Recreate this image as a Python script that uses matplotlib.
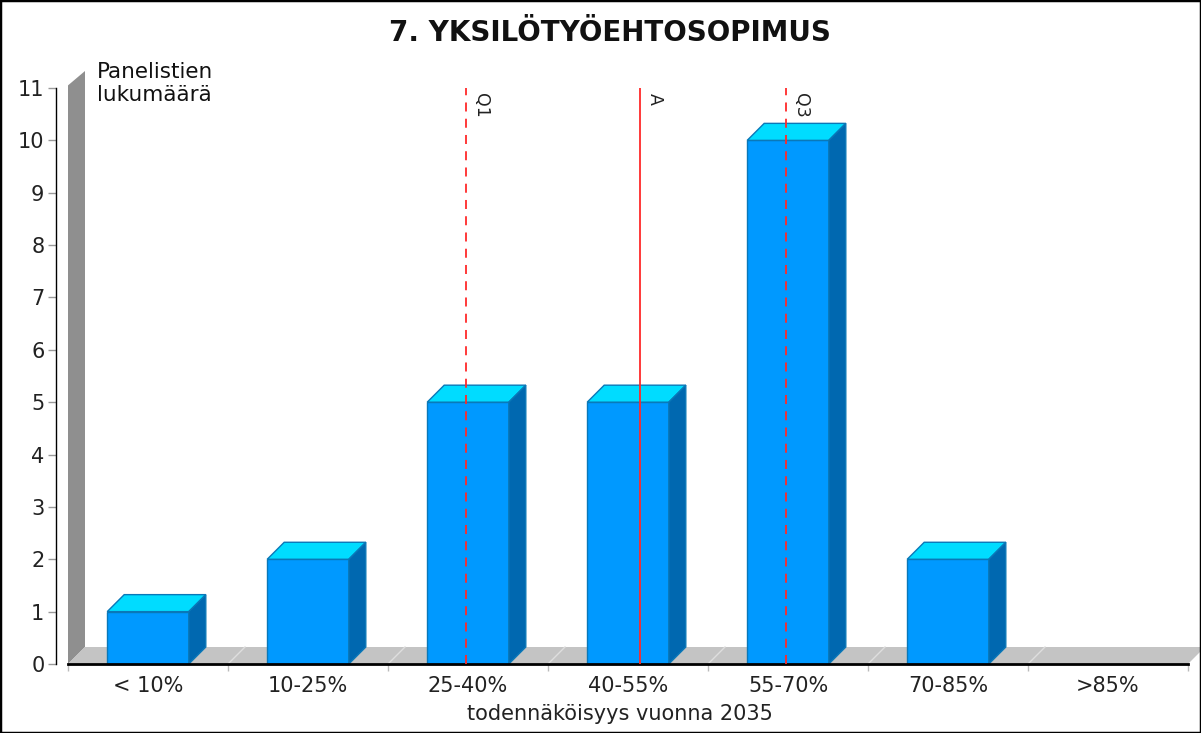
import matplotlib
matplotlib.use("Agg")
import matplotlib.pyplot as plt
from matplotlib.patches import Polygon, Rectangle

# Data
categories = ["< 10%", "10-25%", "25-40%", "40-55%", "55-70%", "70-85%", ">85%"]
counts = [1, 2, 5, 5, 10, 2, 0]
# Summary markers, in category-axis units
q1_pos = 1.99
avg_pos = 3.075
q3_pos = 3.99
y_ticks = list(range(0, 12))

title = "7. YKSILÖTYÖEHTOSOPIMUS"
x_label = "todennäköisyys vuonna 2035"
y_label = "Panelistien\nlukumäärä"

W, H = 1201, 733
fig = plt.figure(figsize=(W / 100, H / 100), dpi=100)
fig.patch.set_facecolor("white")

# plot area in pixels
px_left, px_right = 68, 1188
px_bottom, px_top = 664, 88
ax = fig.add_axes([px_left / W, (H - px_bottom) / H,
                   (px_right - px_left) / W, (px_bottom - px_top) / H])
ax.set_xlim(-0.5, len(categories) - 0.5)
ax.set_ylim(0, 11)
ax.patch.set_alpha(0)

# 3D depth offsets (in data units)
dx = 17 / 160
dy = 17 / ((px_bottom - px_top) / 11)

# back wall and floor
x0 = -0.5
x1 = len(categories) - 0.5
wall = Polygon([(x0, 0), (x0 + dx, dy), (x0 + dx, 11 + dy), (x0, 11.05)],
               closed=True, facecolor="#8f8f8f", edgecolor="none",
               clip_on=False, zorder=1)
ax.add_patch(wall)
floor = Polygon([(x0, 0), (x1, 0), (x1 + dx, dy), (x0 + dx, dy)],
                closed=True, facecolor="#c4c4c4", edgecolor="none",
                clip_on=False, zorder=1)
ax.add_patch(floor)
for b in range(1, len(categories)):
    ax.plot([b - 0.5, b - 0.5 + dx], [0, dy], color="#dedede", lw=1,
            clip_on=False, zorder=1.5)

# 3D bars
bw = 0.255
front_c = "#0099ff"
top_c = "#00dcff"
side_c = "#0068b0"
edge_c = "#0a78b8"
for i, v in enumerate(counts):
    if v <= 0:
        continue
    ax.add_patch(Rectangle((i - bw, 0), 2 * bw, v, facecolor=front_c,
                           edgecolor=edge_c, lw=1, zorder=3, clip_on=False))
    ax.add_patch(Polygon([(i - bw, v), (i + bw, v), (i + bw + dx, v + dy),
                          (i - bw + dx, v + dy)], closed=True,
                         facecolor=top_c, edgecolor=edge_c, lw=1, zorder=3,
                         clip_on=False))
    ax.add_patch(Polygon([(i + bw, 0), (i + bw + dx, dy), (i + bw + dx, v + dy),
                          (i + bw, v)], closed=True, facecolor=side_c,
                         edgecolor=edge_c, lw=1, zorder=3, clip_on=False))

# quartile and average markers
for pos, ls, lab in [(q1_pos, (0, (5, 4)), "Q1"), (avg_pos, "-", "A"),
                     (q3_pos, (0, (5, 4)), "Q3")]:
    ax.plot([pos, pos], [0, 11], color="#ff2a2a", lw=1.3, ls=ls, zorder=5)
    ax.text(pos + 0.035, 10.9, lab, rotation=270, ha="left", va="top",
            fontsize=12.5, color="#222222", zorder=6)

# axes styling
for s in ["top", "right"]:
    ax.spines[s].set_visible(False)
ax.spines["left"].set_position(("outward", 9))
ax.spines["left"].set_linewidth(1)
ax.spines["bottom"].set_linewidth(2)
ax.spines["bottom"].set_zorder(4)

ax.set_yticks(y_ticks)
ax.set_yticklabels([str(t) for t in y_ticks], fontsize=15, color="#222222")
ax.tick_params(axis="y", length=6, width=1, color="#999999", pad=2)

ax.set_xticks(range(len(categories)))
ax.set_xticklabels(categories, fontsize=15, color="#222222")
ax.tick_params(axis="x", which="major", length=0, pad=9)
ax.set_xticks([b - 0.5 for b in range(len(categories) + 1)], minor=True)
ax.tick_params(axis="x", which="minor", length=5, width=1, color="#bbbbbb")

fig.text(620 / W, 1 - 714 / H, x_label, ha="center", va="center",
         fontsize=15, color="#222222")
fig.text(97 / W, 1 - 62 / H, y_label, ha="left", va="top",
         fontsize=15.5, color="#111111", linespacing=1.2)
fig.text(610 / W, 1 - 33 / H, title, ha="center", va="center",
         fontsize=20, fontweight="bold", color="#111111")

# figure border
fig.patches.append(Rectangle((0, 0), 1, 1, transform=fig.transFigure,
                             fill=False, edgecolor="black", lw=2.5))

fig.savefig("out.png", dpi=100)
